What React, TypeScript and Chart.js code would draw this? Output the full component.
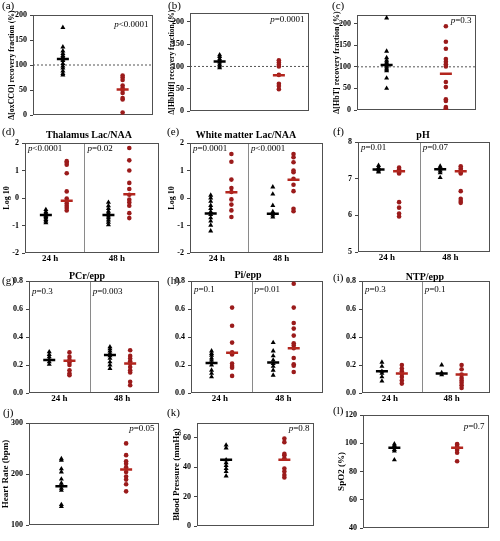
import React, { useEffect, useRef } from "react";
import { Chart, registerables } from "chart.js";
Chart.register(...registerables);

const SERIF = '"Liberation Serif", "DejaVu Serif", serif';

// ---------------- data ----------------
const TIME_LABELS = ["24 h", "48 h"];

// (a) Δ[oxCCO]
const OXCCO_CTRL = [175, 136, 128, 123, 119, 116, 112, 109, 103, 98, 94, 88, 83, 80];
const OXCCO_TREAT = [79, 75, 70, 59, 54, 50, 44, 34, 31, 5];
const OXCCO_MEAN = [112, 51];
// (b) Δ[HbDiff]
const HBDIFF_CTRL = [126, 122, 117, 114, 110, 105, 101, 97];
const HBDIFF_TREAT = [114, 109, 104, 100, 81, 61, 56, 49];
const HBDIFF_MEAN = [111, 80];
// (c) Δ[HbT]
const HBT_CTRL = [213, 136, 121, 115, 111, 108, 104, 101, 97, 94, 91, 74, 50];
const HBT_TREAT = [194, 158, 142, 118, 112, 106, 101, 65, 53, 25, 21, 7, 4, 1];
const HBT_MEAN = [104, 84];
// (d) Thalamus Lac/NAA (log10)
const THAL_CTRL_24 = [-0.42, -0.5, -0.55, -0.6, -0.63, -0.67, -0.72, -0.78, -0.84, -0.9];
const THAL_TREAT_24 = [1.34, 1.28, 1.21, 0.9, 0.24, -0.02, -0.12, -0.2, -0.28, -0.36, -0.45];
const THAL_CTRL_48 = [-0.16, -0.28, -0.38, -0.48, -0.55, -0.6, -0.66, -0.72, -0.8, -0.88, -0.97];
const THAL_TREAT_48 = [1.82, 1.37, 1.0, 0.55, 0.33, 0.12, -0.06, -0.16, -0.28, -0.55, -0.73];
const THAL_MEAN = [-0.62, -0.1, -0.62, 0.14];
// (e) White matter Lac/NAA (log10)
const WM_CTRL_24 = [0.1, 0.0, -0.12, -0.27, -0.38, -0.5, -0.6, -0.72, -0.84, -0.99, -1.2];
const WM_TREAT_24 = [1.6, 1.32, 0.67, 0.36, 0.22, -0.05, -0.24, -0.45, -0.69];
const WM_CTRL_48 = [0.4, 0.14, -0.27, -0.5, -0.56, -0.62, -0.69];
const WM_TREAT_48 = [1.6, 1.48, 1.3, 1.0, 0.94, 0.7, 0.48, 0.25, -0.39, -0.48];
const WM_MEAN = [-0.56, 0.21, -0.57, 0.66];
// (f) pH
const PH_CTRL_24 = [7.36, 7.3, 7.25, 7.21, 7.18];
const PH_TREAT_24 = [7.3, 7.25, 7.21, 7.17, 7.14, 6.36, 6.21, 6.05, 5.97];
const PH_CTRL_48 = [7.34, 7.3, 7.26, 7.21, 7.16, 7.03];
const PH_TREAT_48 = [7.34, 7.28, 7.23, 7.18, 7.14, 6.66, 6.45, 6.39, 6.34];
const PH_MEAN = [7.25, 7.2, 7.26, 7.2];
// (g) PCr/epp
const PCR_CTRL_24 = [0.294, 0.275, 0.258, 0.24, 0.222, 0.205];
const PCR_TREAT_24 = [0.29, 0.258, 0.235, 0.218, 0.2, 0.163, 0.14, 0.127];
const PCR_CTRL_48 = [0.33, 0.315, 0.3, 0.283, 0.266, 0.247, 0.223, 0.2, 0.175];
const PCR_TREAT_48 = [0.305, 0.265, 0.246, 0.227, 0.21, 0.186, 0.162, 0.146, 0.08, 0.055];
const PCR_MEAN = [0.235, 0.23, 0.272, 0.21];
// (h) Pi/epp
const PI_CTRL_24 = [0.3, 0.282, 0.27, 0.25, 0.235, 0.218, 0.2, 0.163, 0.14, 0.115];
const PI_TREAT_24 = [0.61, 0.48, 0.36, 0.29, 0.275, 0.21, 0.193, 0.18, 0.122];
const PI_CTRL_48 = [0.36, 0.3, 0.265, 0.235, 0.21, 0.19, 0.163, 0.127];
const PI_TREAT_48 = [0.78, 0.61, 0.5, 0.46, 0.41, 0.355, 0.34, 0.32, 0.25, 0.205, 0.195, 0.15];
const PI_MEAN = [0.215, 0.287, 0.218, 0.32];
// (i) NTP/epp
const NTP_CTRL_24 = [0.22, 0.19, 0.155, 0.14, 0.115, 0.085];
const NTP_TREAT_24 = [0.2, 0.175, 0.155, 0.136, 0.115, 0.09, 0.067];
const NTP_CTRL_48 = [0.2, 0.145, 0.13];
const NTP_TREAT_48 = [0.2, 0.17, 0.132, 0.108, 0.09, 0.074, 0.055, 0.036];
const NTP_MEAN = [0.155, 0.14, 0.14, 0.132];
// (j) Heart rate
const HR_CTRL = [230, 227, 210, 204, 190, 182, 177, 172, 168, 140, 136];
const HR_TREAT = [260, 237, 225, 220, 213, 204, 195, 189, 180, 166];
const HR_MEAN = [176, 209];
// (k) Blood pressure
const BP_CTRL = [55, 53, 45, 43, 41, 39, 37, 34];
const BP_TREAT = [59.4, 57, 49, 48, 46, 39, 37, 34.6, 33];
const BP_MEAN = [45, 45];
// (l) SpO2
const SPO2_CTRL = [99.5, 98.4, 97, 95.5, 94.4, 88.2];
const SPO2_TREAT = [99.5, 98.9, 97.5, 96.5, 95.3, 93.3, 87.3];
const SPO2_MEAN = [96.8, 96.8];

// tick labels
const PCT_TICKS = [0, 50, 100, 150, 200];
const LOG_TICKS = [-2, -1, 0, 1, 2];
const PH_TICKS = [5, 6, 7, 8];
const RATIO_TICKS = [0, 0.2, 0.4, 0.6, 0.8];
const HR_TICKS = [100, 200, 300];
const BP_TICKS = [0, 20, 40, 60];
const SPO2_TICKS = [40, 60, 80, 100, 120];

// ---------------- styles ----------------
const BLACK = "#000000";
const RED_DOT = "#9b1b1b";
const RED_MEAN = "#b3261e";

interface Group { x: number; values: number[]; mean: number; treated: boolean }
interface PVal { text: string; at: "left" | "divider" | "right"; dy: number }
interface PanelSpec {
  letter: string; letterX: number; letterY: number;
  box: [number, number, number, number];
  canvasLeft: number;
  yMin: number; yMax: number; yTicks: number[]; yDecimals: number;
  yTitle?: string; yTitleSize?: number;
  xMax: number;
  groups: Group[];
  xLabels?: string[]; xLabelAt?: number[];
  divider?: number;
  refLine?: number;
  title?: string; titleX?: number; titleY?: number;
  pvals: PVal[];
}

function two(ctrl: number[], treat: number[], means: number[]): Group[] {
  return [
    { x: 1, values: ctrl, mean: means[0], treated: false },
    { x: 3, values: treat, mean: means[1], treated: true },
  ];
}
function four(c24: number[], t24: number[], c48: number[], t48: number[], means: number[]): Group[] {
  return [
    { x: 1, values: c24, mean: means[0], treated: false },
    { x: 2, values: t24, mean: means[1], treated: true },
    { x: 4, values: c48, mean: means[2], treated: false },
    { x: 5, values: t48, mean: means[3], treated: true },
  ];
}

const PANELS: PanelSpec[] = [
  { letter: "(a)", letterX: 2, letterY: 0, box: [33, 15, 157, 122], canvasLeft: 8,
    yMin: 0, yMax: 200, yTicks: PCT_TICKS, yDecimals: 0, yTitle: "Δ[oxCCO] recovery fraction (%)", yTitleSize: 7.8,
    xMax: 4, groups: two(OXCCO_CTRL, OXCCO_TREAT, OXCCO_MEAN), refLine: 100,
    pvals: [{ text: "<0.0001", at: "right", dy: 10 }] },
  { letter: "(b)", letterX: 168, letterY: 0, box: [190, 13, 313, 118], canvasLeft: 168,
    yMin: 0, yMax: 220, yTicks: PCT_TICKS, yDecimals: 0, yTitle: "Δ[HbDiff] recovery fraction (%)", yTitleSize: 7.6,
    xMax: 4, groups: two(HBDIFF_CTRL, HBDIFF_TREAT, HBDIFF_MEAN), refLine: 100,
    pvals: [{ text: "=0.0001", at: "right", dy: 7 }] },
  { letter: "(c)", letterX: 332, letterY: 0, box: [357, 15, 480, 117], canvasLeft: 333,
    yMin: 0, yMax: 220, yTicks: PCT_TICKS, yDecimals: 0, yTitle: "Δ[HbT] recovery fraction (%)", yTitleSize: 8,
    xMax: 4, groups: two(HBT_CTRL, HBT_TREAT, HBT_MEAN), refLine: 100,
    pvals: [{ text: "=0.3", at: "right", dy: 6 }] },

  { letter: "(d)", letterX: 2, letterY: 126, box: [25, 143, 163, 253], canvasLeft: 3,
    yMin: -2, yMax: 2, yTicks: LOG_TICKS, yDecimals: 0, yTitle: "Log 10", yTitleSize: 8,
    xMax: 6.4, groups: four(THAL_CTRL_24, THAL_TREAT_24, THAL_CTRL_48, THAL_TREAT_48, THAL_MEAN),
    xLabels: TIME_LABELS, xLabelAt: [1.2, 4.4], divider: 2.85,
    title: "Thalamus Lac/NAA", titleX: 89, titleY: 135,
    pvals: [{ text: "<0.0001", at: "left", dy: 6 }, { text: "=0.02", at: "divider", dy: 6 }] },
  { letter: "(e)", letterX: 167, letterY: 126, box: [190, 143, 327, 253], canvasLeft: 168,
    yMin: -2, yMax: 2, yTicks: LOG_TICKS, yDecimals: 0, yTitle: "Log 10", yTitleSize: 8,
    xMax: 6.4, groups: four(WM_CTRL_24, WM_TREAT_24, WM_CTRL_48, WM_TREAT_48, WM_MEAN),
    xLabels: TIME_LABELS, xLabelAt: [1.3, 4.4], divider: 2.8,
    title: "White matter Lac/NAA", titleX: 246, titleY: 135,
    pvals: [{ text: "=0.0001", at: "left", dy: 6 }, { text: "<0.0001", at: "divider", dy: 6 }] },
  { letter: "(f)", letterX: 333, letterY: 126, box: [358, 142, 494, 252], canvasLeft: 335,
    yMin: 5, yMax: 8, yTicks: PH_TICKS, yDecimals: 0,
    xMax: 6.4, groups: four(PH_CTRL_24, PH_TREAT_24, PH_CTRL_48, PH_TREAT_48, PH_MEAN),
    xLabels: TIME_LABELS, xLabelAt: [1.4, 4.5], divider: 3.0,
    title: "pH", titleX: 423, titleY: 135,
    pvals: [{ text: "=0.01", at: "left", dy: 6 }, { text: "=0.07", at: "divider", dy: 6 }] },

  { letter: "(g)", letterX: 2, letterY: 275, box: [29, 281, 163, 393], canvasLeft: 5,
    yMin: 0, yMax: 0.8, yTicks: RATIO_TICKS, yDecimals: 1,
    xMax: 6.4, groups: four(PCR_CTRL_24, PCR_TREAT_24, PCR_CTRL_48, PCR_TREAT_48, PCR_MEAN),
    xLabels: TIME_LABELS, xLabelAt: [1.5, 4.6], divider: 3.0,
    title: "PCr/epp", titleX: 87, titleY: 276,
    pvals: [{ text: "=0.3", at: "left", dy: 11 }, { text: "=0.003", at: "divider", dy: 11 }] },
  { letter: "(h)", letterX: 167, letterY: 275, box: [191, 281, 327, 393], canvasLeft: 168,
    yMin: 0, yMax: 0.8, yTicks: RATIO_TICKS, yDecimals: 1,
    xMax: 6.4, groups: four(PI_CTRL_24, PI_TREAT_24, PI_CTRL_48, PI_TREAT_48, PI_MEAN),
    xLabels: TIME_LABELS, xLabelAt: [1.4, 4.5], divider: 2.95,
    title: "Pi/epp", titleX: 248, titleY: 275,
    pvals: [{ text: "=0.1", at: "left", dy: 9 }, { text: "=0.01", at: "divider", dy: 9 }] },
  { letter: "(i)", letterX: 333, letterY: 272, box: [362, 281, 494, 393], canvasLeft: 345,
    yMin: 0, yMax: 0.8, yTicks: RATIO_TICKS, yDecimals: 1,
    xMax: 6.4, groups: four(NTP_CTRL_24, NTP_TREAT_24, NTP_CTRL_48, NTP_TREAT_48, NTP_MEAN),
    xLabels: TIME_LABELS, xLabelAt: [1.4, 4.5], divider: 3.0,
    title: "NTP/epp", titleX: 425, titleY: 277,
    pvals: [{ text: "=0.3", at: "left", dy: 9 }, { text: "=0.1", at: "divider", dy: 9 }] },

  { letter: "(j)", letterX: 3, letterY: 407, box: [29, 423, 163, 532], canvasLeft: 1,
    yMin: 100, yMax: 300, yTicks: HR_TICKS, yDecimals: 0, yTitle: "Heart Rate (bpm)", yTitleSize: 9,
    xMax: 4, groups: two(HR_CTRL, HR_TREAT, HR_MEAN),
    pvals: [{ text: "=0.05", at: "right", dy: 6 }] },
  { letter: "(k)", letterX: 167, letterY: 407, box: [197, 423, 318, 533], canvasLeft: 172,
    yMin: 0, yMax: 70, yTicks: BP_TICKS, yDecimals: 0, yTitle: "Blood Pressure (mmHg)", yTitleSize: 9,
    xMax: 4, groups: two(BP_CTRL, BP_TREAT, BP_MEAN),
    pvals: [{ text: "=0.8", at: "right", dy: 6 }] },
  { letter: "(l)", letterX: 333, letterY: 405, box: [363, 415, 493, 535], canvasLeft: 337,
    yMin: 40, yMax: 120, yTicks: SPO2_TICKS, yDecimals: 0, yTitle: "SpO2 (%)", yTitleSize: 9,
    xMax: 4, groups: two(SPO2_CTRL, SPO2_TREAT, SPO2_MEAN),
    pvals: [{ text: "=0.7", at: "right", dy: 12 }] },
];

function geometry(spec: PanelSpec) {
  const [l, t, r, b] = spec.box;
  const top = Math.max(0, t - 20);
  const hasX = !!spec.xLabels;
  const padB = hasX ? 13 : 7;
  const padR = 4;
  return { left: spec.canvasLeft, top, w: r + padR - spec.canvasLeft, h: b + padB - top, padT: t - top, padB, padR, hasX };
}

function makeDecor(spec: PanelSpec, geo: ReturnType<typeof geometry>) {
  return {
    id: "decor",
    beforeDatasetsDraw(chart: any) {
      const { ctx, chartArea: ca } = chart;
      ctx.save();
      if (spec.divider != null) {
        const x = Math.round(chart.scales.x.getPixelForValue(spec.divider)) + 0.5;
        ctx.strokeStyle = "#8a8a8a";
        ctx.lineWidth = 1;
        ctx.beginPath();
        ctx.moveTo(x, ca.top);
        ctx.lineTo(x, ca.bottom);
        ctx.stroke();
      }
      ctx.strokeStyle = "#505050";
      ctx.lineWidth = 1;
      ctx.strokeRect(Math.round(ca.left) + 0.5, Math.round(ca.top) + 0.5, Math.round(ca.width) - 1, Math.round(ca.height) - 1);
      ctx.restore();
    },
    afterDraw(chart: any) {
      const { ctx, chartArea: ca } = chart;
      ctx.save();
      ctx.fillStyle = "#000";
      ctx.textBaseline = "middle";
      if (spec.title) {
        ctx.font = `bold 10px ${SERIF}`;
        ctx.textAlign = "center";
        ctx.fillText(spec.title, (spec.titleX as number) - geo.left, (spec.titleY as number) - geo.top);
      }
      ctx.textAlign = "left";
      for (const p of spec.pvals) {
        ctx.font = `italic 9px ${SERIF}`;
        const pw = ctx.measureText("p").width;
        ctx.font = `9px ${SERIF}`;
        const rw = ctx.measureText(p.text).width;
        let x: number;
        if (p.at === "left") x = ca.left + 3;
        else if (p.at === "divider") x = chart.scales.x.getPixelForValue(spec.divider as number) + 3;
        else x = ca.right - 4 - pw - rw;
        const y = ca.top + p.dy;
        ctx.font = `italic 9px ${SERIF}`;
        ctx.fillText("p", x, y);
        ctx.font = `9px ${SERIF}`;
        ctx.fillText(p.text, x + pw, y);
      }
      ctx.restore();
    },
  };
}

function buildConfig(spec: PanelSpec, geo: ReturnType<typeof geometry>): any {
  const datasets: any[] = [];
  datasets.push({
    label: "mean",
    data: spec.groups.map((g) => ({ x: g.x, y: g.mean })),
    pointStyle: "line",
    pointRadius: 6,
    pointHoverRadius: 6,
    pointBorderWidth: 2.5,
    pointBorderColor: spec.groups.map((g) => (g.treated ? RED_MEAN : BLACK)),
    pointBackgroundColor: spec.groups.map((g) => (g.treated ? RED_MEAN : BLACK)),
  });
  spec.groups.forEach((g, i) => {
    const c = g.treated ? RED_DOT : BLACK;
    datasets.push({
      label: "group" + i,
      data: g.values.map((v) => ({ x: g.x, y: v })),
      pointStyle: g.treated ? "circle" : "triangle",
      pointRadius: g.treated ? 2.3 : 2.9,
      pointHoverRadius: g.treated ? 2.3 : 2.9,
      pointBorderWidth: 0,
      pointBackgroundColor: c,
      pointBorderColor: c,
    });
  });
  if (spec.refLine != null) {
    datasets.push({
      label: "ref",
      data: [{ x: 0, y: spec.refLine }, { x: spec.xMax, y: spec.refLine }],
      showLine: true,
      pointRadius: 0,
      borderColor: "#555",
      borderWidth: 1,
      borderDash: [2, 2],
    });
  }
  return {
    type: "scatter",
    data: { datasets },
    options: {
      animation: false,
      responsive: false,
      maintainAspectRatio: false,
      devicePixelRatio: 1,
      events: [],
      layout: { padding: { top: geo.padT, right: geo.padR, left: 0, bottom: geo.hasX ? 0 : geo.padB } },
      plugins: { legend: { display: false }, tooltip: { enabled: false }, title: { display: false } },
      scales: {
        x: {
          type: "linear",
          min: 0,
          max: spec.xMax,
          display: geo.hasX,
          afterFit: (s: any) => { s.height = geo.padB; },
          afterBuildTicks: (s: any) => { s.ticks = (spec.xLabelAt || []).map((v) => ({ value: v })); },
          ticks: {
            callback: (_v: any, i: number) => (spec.xLabels ? spec.xLabels[i] : ""),
            font: { family: SERIF, size: 9, weight: "bold" },
            color: "#000",
            padding: 0,
            autoSkip: false,
            maxRotation: 0,
          },
          grid: { display: false, drawTicks: false },
          border: { display: false },
        },
        y: {
          type: "linear",
          min: spec.yMin,
          max: spec.yMax,
          afterFit: (s: any) => { s.width = spec.box[0] - spec.canvasLeft; },
          afterBuildTicks: (s: any) => { s.ticks = spec.yTicks.map((v) => ({ value: v })); },
          ticks: {
            callback: (v: any) => Number(v).toFixed(spec.yDecimals),
            font: { family: SERIF, size: 8, weight: "bold" },
            color: "#000",
            padding: 3,
            autoSkip: false,
          },
          grid: { drawOnChartArea: false, drawTicks: true, tickLength: 3, color: "#444" },
          border: { display: false },
          title: spec.yTitle
            ? { display: true, text: spec.yTitle, color: "#000", padding: 0,
                font: { family: SERIF, size: spec.yTitleSize || 8, weight: "bold", lineHeight: 1 } }
            : { display: false },
        },
      },
    },
    plugins: [makeDecor(spec, geo)],
  };
}

function Panel({ spec }: { spec: PanelSpec }) {
  const ref = useRef<HTMLCanvasElement>(null);
  const geo = geometry(spec);
  useEffect(() => {
    if (!ref.current) return;
    const chart = new Chart(ref.current, buildConfig(spec, geo));
    return () => chart.destroy();
  }, [spec]);
  return (
    <canvas
      ref={ref}
      width={geo.w}
      height={geo.h}
      style={{ position: "absolute", left: geo.left, top: geo.top, width: geo.w, height: geo.h }}
    />
  );
}

export default function App() {
  return (
    <div style={{ position: "absolute", left: 0, top: 0, width: 500, height: 541, background: "#fff", overflow: "hidden" }}>
      {PANELS.map((p) => (
        <Panel key={p.letter} spec={p} />
      ))}
      {PANELS.map((p) => (
        <div
          key={"l" + p.letter}
          style={{ position: "absolute", left: p.letterX, top: p.letterY, font: `11px ${SERIF}`, lineHeight: "11px", color: "#000" }}
        >
          {p.letter}
        </div>
      ))}
    </div>
  );
}
